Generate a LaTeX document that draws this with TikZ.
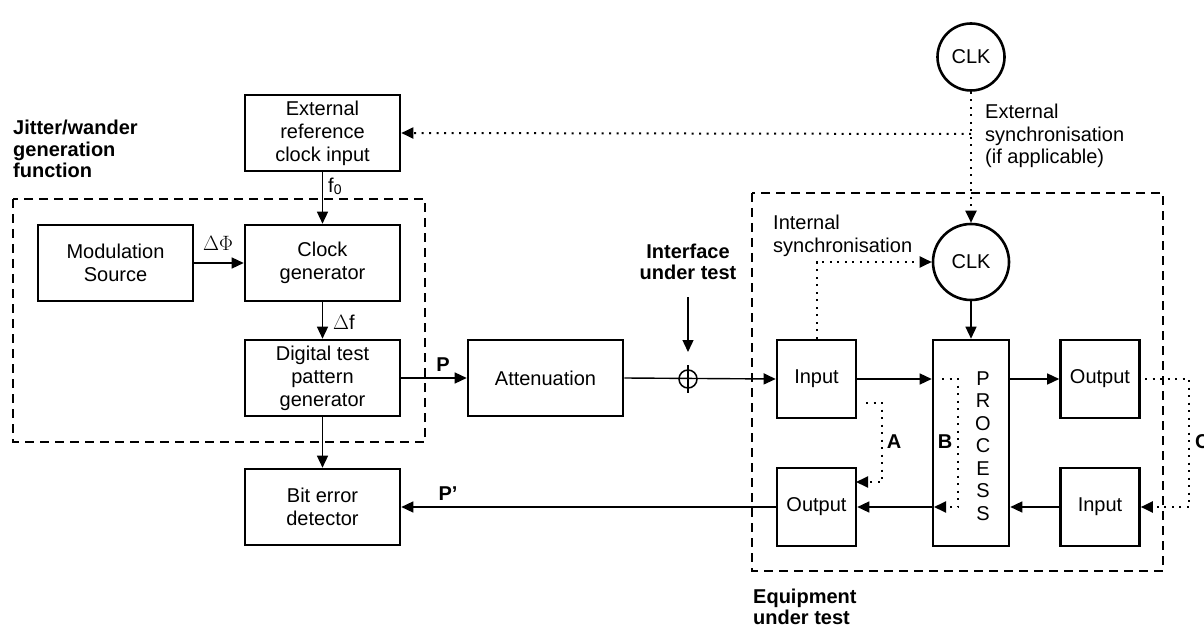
\documentclass[tikz,border=0pt]{standalone}
\usepackage{fontspec}
\setmainfont{Liberation Sans}
\usetikzlibrary{arrows.meta,calc}
\begin{document}
\begin{tikzpicture}[x=1pt,y=-1pt,
 lbl/.style={inner sep=0pt,font=\fontsize{20}{22.5}\selectfont},
 blbl/.style={inner sep=0pt,font=\fontsize{20}{21.5}\selectfont\bfseries},
 box/.style={draw,line width=2.6pt,inner sep=0pt,align=center,font=\fontsize{20}{23}\selectfont},
 wbox/.style={box,minimum width=155pt,minimum height=76pt},
 sbox/.style={box,minimum width=79pt,minimum height=78pt},
 clk/.style={circle,draw,line width=2.6pt,inner sep=0pt,font=\fontsize{20}{23}\selectfont},
 conn/.style={line width=1.4pt,-{Triangle[length=12pt,width=11pt]}},
 plain/.style={line width=1.4pt},
 dots/.style={line width=2pt,dash pattern=on 2pt off 5.5pt,-{Triangle[length=12pt,width=11pt]}},
 region/.style={line width=2pt,dash pattern=on 9pt off 6pt},
]
\useasboundingbox (0,0) rectangle (1204,628);

% dashed regions
\draw[region] (13,199) rectangle (425,442);
\draw[region] (752,193) rectangle (1163,571);

% left boxes
\node[wbox] (ext) at (322.5,133) {External\\reference\\clock input};
\node[wbox] (mod) at (115.5,263) {Modulation\\Source};
\node[wbox] (cg) at (322.5,263) {Clock\\generator};
\node[wbox] (dtpg) at (322.5,378) {Digital test\\pattern\\generator};
\node[wbox] (ber) at (322.5,507) {Bit error\\detector};
\node[wbox] (att) at (545.5,378) {Attenuation};

% EUT boxes
\node[sbox] (in1) at (816.5,379) {Input};
\node[sbox] (out1) at (816.5,507) {Output};
\node[sbox] (out2) at (1100,379) {Output};
\node[sbox] (in2) at (1100,507) {Input};
\node[box,minimum width=76pt,minimum height=206pt] (proc) at (971,443) {};
\node[lbl,align=center] (proctext) at (983,446) {P\\R\\O\\C\\E\\S\\S};
\node[clk,minimum size=76pt] (clkI) at (971,262) {CLK};
\node[clk,minimum size=67pt] (clkT) at (971,57) {CLK};

% labels
\node[blbl,align=left,anchor=west] (jit) at (13,149) {Jitter/wander\\generation\\function};
\node[lbl,anchor=west] (f0) at (328,186) {f{\fontsize{14}{14}\selectfont\raisebox{-2pt}{0}}};
\node[lbl] (dphi) at (218,243) {$\Delta\Phi$};
\node[lbl] (df) at (344,322) {$\Delta$f};
\node[blbl] (p) at (443,365) {P};
\node[blbl] (pp) at (448,494) {P\symbol{39}};
\node[blbl,align=center] (iut) at (688,262) {Interface\\under test};
\node[lbl,align=left,anchor=west] (isync) at (773,236) {Internal\\synchronisation};
\node[lbl,align=left,anchor=west] (esync) at (985,136) {External\\synchronisation\\(if applicable)};
\node[blbl,align=left,anchor=west] (eut) at (753,607) {Equipment\\under test};
\node[blbl] (la) at (894,442) {A};
\node[blbl] (lb) at (945,442) {B};
\node[blbl,anchor=west] (lc) at (1195,442) {C};

% solid connectors
\draw[conn] (ext.south) -- (cg.north);
\draw[conn] (mod.east) -- (cg.west);
\draw[conn] (cg.south) -- (dtpg.north);
\draw[conn] (dtpg.south) -- (ber.north);
\draw[conn] (dtpg.east) -- (att.west);
\draw[conn] (att.east) -- (in1.west);
\draw[conn] (in1.east) -- (in1.east -| proc.west);
\draw[conn] (proc.east |- out2.west) -- (out2.west);
\draw[conn] (in2.west) -- (proc.east |- in2.west);
\draw[conn] (proc.west |- out1.east) -- (out1.east);
\draw[conn] (out1.west) -- (ber.east);
\draw[conn] (clkI.south) -- (proc.north);

% interface under test marker
\node[circle,draw,line width=1.5pt,minimum size=18pt,inner sep=0pt] (ifc) at (688,379) {};
\coordinate (ifv1) at (688,365);
\coordinate (ifv2) at (688,393);
\draw[plain] (ifv1) -- (ifv2);
\coordinate (iuts) at (688,297);
\coordinate (iute) at (688,352);
\draw[conn] (iuts) -- (iute);

% dotted connectors
\draw[dots] (clkT.south) -- (clkI.north);
\coordinate (esj) at (971,134);
\draw[dots] (esj) -- (ext.east);
\draw[dots] (in1.north) |- (clkI.west);
\coordinate (a0) at (866,403);
\coordinate (a1) at (882,403);
\coordinate (a2) at (882,482);
\coordinate (a3) at (856,482);
\draw[dots] (a0) -- (a1) -- (a2) -- (a3);
\coordinate (b0) at (942,379);
\coordinate (b1) at (958,379);
\coordinate (b2) at (958,507);
\coordinate (b3) at (934,507);
\draw[dots] (b0) -- (b1) -- (b2) -- (b3);
\coordinate (c0) at (1145,379);
\coordinate (c1) at (1189,379);
\coordinate (c2) at (1189,507);
\draw[dots] (c0) -- (c1) -- (c2) -- (in2.east);
\end{tikzpicture}
\end{document}
